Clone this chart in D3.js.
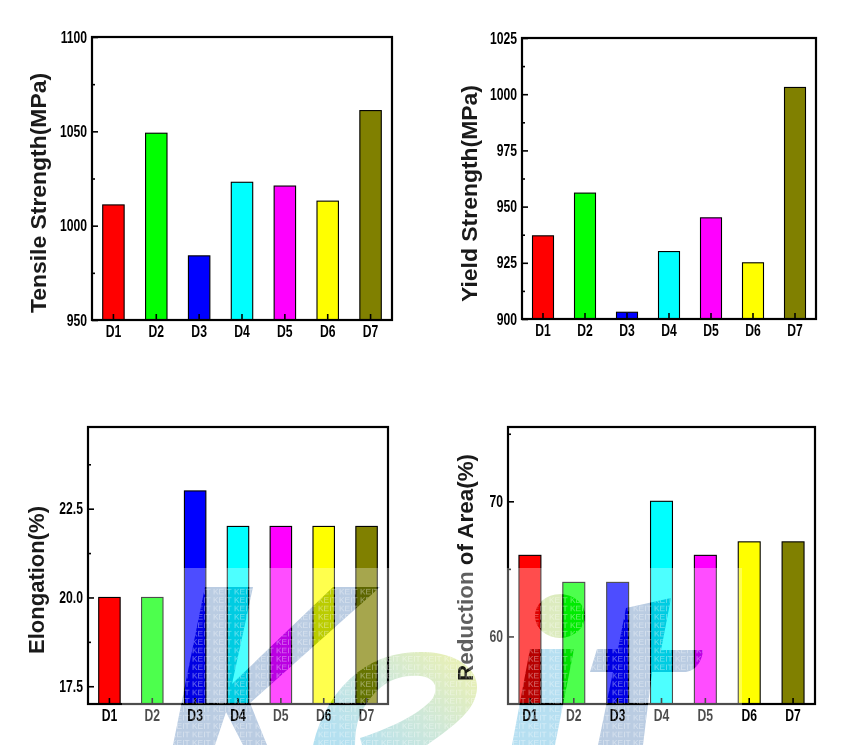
<!DOCTYPE html>
<html><head><meta charset="utf-8">
<script src="https://cdn.jsdelivr.net/npm/d3@7/dist/d3.min.js"></script>
<style>html,body{margin:0;padding:0;background:#fff}svg{display:block}</style>
</head><body><div id="c"></div>
<script>
const categories = ["D1","D2","D3","D4","D5","D6","D7"];
const barColors = ["#ff0000","#00ff00","#0000ff","#00ffff","#ff00ff","#ffff00","#808000"];
const tensile = [1011,1049,984,1023,1021,1013,1061];
const yieldS = [937,956,903,930,945,925,1003];
const elongation = [20,20,23,22,22,22,22];
const reduction = [66,64,64,70,66,67,67];
const tensileTicks = [950,1000,1050,1100], tensileMinor = [975,1025,1075];
const yieldTicks = [900,925,950,975,1000,1025], yieldMinor = [912.5,937.5,962.5,987.5,1012.5];
const elongTicks = [17.5,20,22.5], elongMinor = [18.75,21.25,23.75];
const redTicks = [60,70], redMinor = [65,75];

const W = 846, H = 745;
const svg = d3.select("#c").append("svg").attr("width",W).attr("height",H);
const FONT = "'Liberation Sans', Arial, sans-serif";
const SX = 0.76;

function panel(o){
  const x = d3.scaleBand().domain(categories).range([o.l,o.r]).paddingInner(.5).paddingOuter(.25);
  const y = d3.scaleLinear().domain(o.domain).range([o.b,o.t]);
  const g = svg.append("g");
  g.selectAll("rect.bar").data(o.values).join("rect").attr("class","bar")
    .attr("x",(d,i)=>x(categories[i])).attr("width",x.bandwidth())
    .attr("y",d=>y(d)).attr("height",d=>o.b-y(d))
    .attr("fill",(d,i)=>barColors[i]).attr("stroke","#000").attr("stroke-width",1.1);
  g.append("rect").attr("x",o.l).attr("y",o.t).attr("width",o.r-o.l).attr("height",o.b-o.t)
    .attr("fill","none").attr("stroke","#000").attr("stroke-width",2.2);
  const ya = g.append("g").attr("transform",`translate(${o.l},0)`)
    .call(d3.axisLeft(y).tickValues(o.ticks).tickSize(-6).tickPadding(5).tickFormat(o.fmt||d3.format("d")));
  const ym = g.append("g").attr("transform",`translate(${o.l},0)`)
    .call(d3.axisLeft(y).tickValues(o.minor).tickSize(-3).tickFormat(""));
  const xa = g.append("g").attr("transform",`translate(0,${o.b})`)
    .call(d3.axisBottom(x).tickSize(-6).tickPadding(6));
  [ya,ym,xa].forEach(a=>{
    a.select(".domain").remove();
    a.selectAll("line").attr("stroke","#000").attr("stroke-width",1.6);
    a.selectAll("text").attr("font-family",FONT).attr("font-size",16).attr("font-weight","bold").attr("fill","#000");
  });
  ya.selectAll("text").attr("x",-5/SX).attr("transform",`scale(${SX},1)`);
  xa.selectAll("text").attr("transform",`scale(${SX},1)`);
  g.append("text").text(o.label)
    .attr("transform",`translate(${o.lx},${o.ly}) rotate(-90)`)
    .attr("text-anchor","middle").attr("dominant-baseline","central")
    .attr("font-family",FONT).attr("font-size",22).attr("font-weight","bold").attr("fill","#1a1a1a")
    .attr("textLength",o.ll).attr("lengthAdjust","spacingAndGlyphs");
}

panel({l:92,r:392,t:37,b:320,domain:[950,1100],values:tensile,ticks:tensileTicks,minor:tensileMinor,
  label:"Tensile Strength(MPa)",lx:38,ly:193,ll:240});
panel({l:522,r:816,t:38,b:319,domain:[900,1025],values:yieldS,ticks:yieldTicks,minor:yieldMinor,
  label:"Yield Strength(MPa)",lx:469,ly:193.5,ll:217});
panel({l:88,r:388,t:427,b:704,domain:[17,24.8],values:elongation,ticks:elongTicks,minor:elongMinor,
  fmt:d3.format(".1f"),label:"Elongation(%)",lx:36,ly:580,ll:148});
panel({l:508,r:815,t:427,b:704,domain:[55,75.5],values:reduction,ticks:redTicks,minor:redMinor,
  label:"Reduction of Area(%)",lx:465,ly:567.5,ll:227});

/* decorative KEIT watermark */
const defs = svg.append("defs");
const grad = defs.append("linearGradient").attr("id","eGrad").attr("gradientUnits","userSpaceOnUse")
  .attr("x1",440).attr("y1",650).attr("x2",350).attr("y2",745);
grad.append("stop").attr("offset",0).attr("stop-color","#e6efb8");
grad.append("stop").attr("offset",.45).attr("stop-color","#cfe8d8");
grad.append("stop").attr("offset",1).attr("stop-color","#b4e0f0");
const logoK = "M205,587 L253,587 L232,684 L333,587 L380,587 L250,703 L267,745 L243,745 L226,712 L215,745 L173,745 Z";
const logoE = "M313,745 C320,715 335,690 358,672 C378,657 400,651 425,652 C455,653 478,668 477,688 C476,710 455,725 427,745 L362,745 L360,738 C385,730 420,715 433,698 C440,685 432,677 420,676 C395,674 375,685 360,715 C356,725 355,735 355,745 Z";
const logoDot = "M535,616 A25,22 0 1 1 585,616 A25,22 0 1 1 535,616 Z";
const logoI = "M530,649 L574,649 L555,745 L512,745 Z";
const logoT = "M626,608 L671,598 L661,650 L703,650 C702,662 695,672 684,672 L652,672 L643,745 L598,745 L613,672 L590,672 L597,649 L618,649 Z";
const logos = [[logoK,"#baccE2"],[logoE,"url(#eGrad)"],[logoDot,"#dcebbe"],[logoI,"#b6dff1"],[logoT,"#baccE2"]];

const mask = defs.append("mask").attr("id","holes").attr("maskUnits","userSpaceOnUse")
  .attr("x",0).attr("y",0).attr("width",W).attr("height",H);
mask.append("rect").attr("width",W).attr("height",H).attr("fill","#fff");
mask.selectAll("path").data(logos).join("path").attr("d",d=>d[0]).attr("fill","#000");

const pat = defs.append("pattern").attr("id","keit").attr("patternUnits","userSpaceOnUse")
  .attr("x",2).attr("y",587).attr("width",21).attr("height",8.4);
pat.append("text").text("KEIT").attr("x",1).attr("y",7.2).attr("font-family",FONT)
  .attr("font-size",8.4).attr("fill","#fff").attr("fill-opacity",.42);

svg.append("rect").attr("x",122).attr("y",568).attr("width",620).attr("height",177)
  .attr("fill","#fff").attr("fill-opacity",.3).attr("mask","url(#holes)");
svg.append("g").style("mix-blend-mode","multiply").selectAll("path").data(logos).join("path")
  .attr("d",d=>d[0]).attr("fill",d=>d[1]);
svg.append("g").selectAll("path").data(logos).join("path")
  .attr("d",d=>d[0]).attr("fill","url(#keit)");
</script></body></html>
